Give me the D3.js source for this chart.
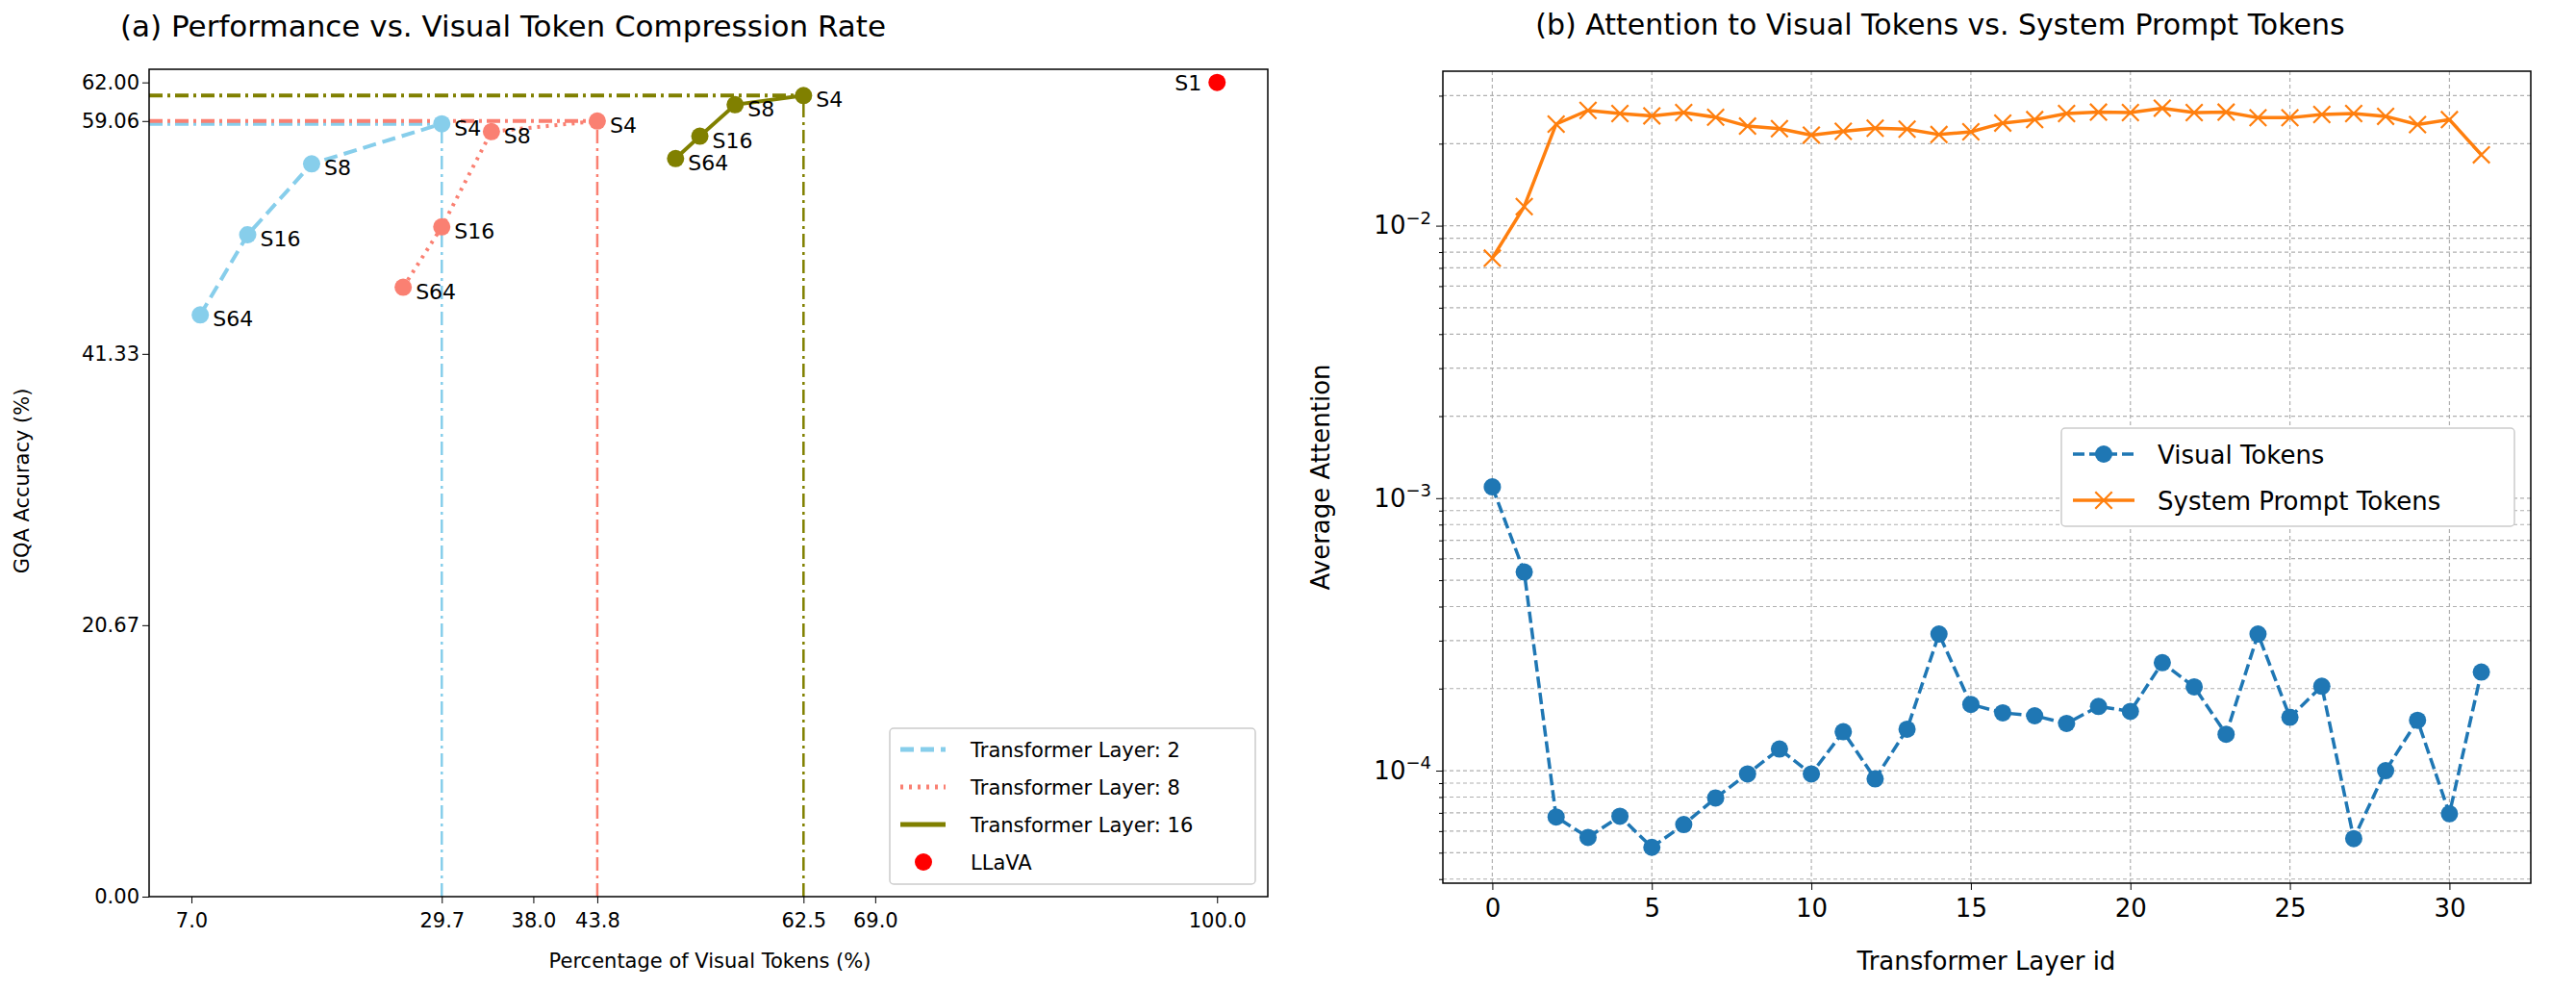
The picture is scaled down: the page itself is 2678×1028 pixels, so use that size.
<!DOCTYPE html>
<html><head><meta charset="utf-8">
<script src="https://cdn.jsdelivr.net/npm/d3@7"></script>
<style>body{margin:0;background:#fff}text{font-family:"DejaVu Sans",sans-serif}</style>
</head><body>
<svg id="fig" width="2678" height="1028"></svg>
<script>
// ---- panel (a) data
var layer2 = [{x: 7.8, y: 44.3, l: "S64"}, {x: 12.1, y: 50.4, l: "S16"}, {x: 17.9, y: 55.8, l: "S8"}, {x: 29.7, y: 58.85, l: "S4"}];
var layer8 = [{x: 26.2, y: 46.4, l: "S64"}, {x: 29.7, y: 51.0, l: "S16"}, {x: 34.2, y: 58.25, l: "S8"}, {x: 43.8, y: 59.06, l: "S4"}];
var layer16 = [{x: 50.9, y: 56.2, l: "S64"}, {x: 53.1, y: 57.9, l: "S16"}, {x: 56.3, y: 60.3, l: "S8"}, {x: 62.5, y: 61.0, l: "S4"}];
var llava = [{x: 100, y: 62.0, l: "S1"}];
var xTicksA = [7.0, 29.7, 38.0, 43.8, 62.5, 69.0, 100.0];
var yTicksA = [0.00, 20.67, 41.33, 59.06, 62.00];

// ---- panel (b) data
var layerIds = d3.range(32);
var visualTok = [1.1e-3, 5.36e-4, 6.76e-5, 5.69e-5, 6.8e-5, 5.23e-5, 6.34e-5, 7.94e-5, 9.73e-5, 1.2e-4,
    9.73e-5, 1.39e-4, 9.33e-5, 1.42e-4, 3.17e-4, 1.75e-4, 1.63e-4, 1.59e-4, 1.49e-4, 1.72e-4,
    1.65e-4, 2.49e-4, 2.03e-4, 1.36e-4, 3.17e-4, 1.57e-4, 2.04e-4, 5.63e-5, 1.0e-4, 1.53e-4,
    6.95e-5, 2.3e-4];
var systemTok = [0.0076, 0.01175, 0.0236, 0.0265, 0.0258, 0.0253, 0.026, 0.025, 0.0232, 0.0227,
    0.0215, 0.0222, 0.0228, 0.0226, 0.0216, 0.0221, 0.0238, 0.0245, 0.0258, 0.0261,
    0.026, 0.027, 0.026, 0.0261, 0.0249, 0.0249, 0.0256, 0.0258, 0.0252, 0.0235,
    0.0245, 0.0182];

var svg = d3.select("#fig");

// ================= panel (a)
var xa = d3.scaleLinear().domain([3.16, 104.6]).range([155, 1318]);
var ya = d3.scaleLinear().domain([0, 63]).range([932, 72]);
var ga = svg.append("g");

ga.append("text").attr("x", 523).attr("y", 38).attr("text-anchor", "middle")
    .style("font-size", "31px").text("(a) Performance vs. Visual Token Compression Rate");

var seriesA = [
    {data: layer2, color: "#87ceeb", dash: "14,7", name: "Transformer Layer: 2"},
    {data: layer8, color: "#fa8072", dash: "3,6", name: "Transformer Layer: 8"},
    {data: layer16, color: "#808000", dash: null, name: "Transformer Layer: 16"}
];

// reference dash-dot lines at the S4 point
seriesA.forEach(function (s) {
    var p = s.data[s.data.length - 1];
    ga.append("line").attr("x1", xa(p.x)).attr("x2", xa(p.x)).attr("y1", ya(0)).attr("y2", ya(p.y))
        .attr("stroke", s.color).attr("stroke-width", 2.5).attr("stroke-dasharray", "14,5,3,5");
    ga.append("line").attr("x1", xa.range()[0]).attr("x2", xa(p.x)).attr("y1", ya(p.y)).attr("y2", ya(p.y))
        .attr("stroke", s.color).attr("stroke-width", 4).attr("stroke-dasharray", "14,5,3,5");
});

var lineA = d3.line().x(function (d) { return xa(d.x); }).y(function (d) { return ya(d.y); });
seriesA.forEach(function (s) {
    ga.append("path").attr("d", lineA(s.data)).attr("fill", "none").attr("stroke", s.color)
        .attr("stroke-width", 4).attr("stroke-dasharray", s.dash);
    ga.selectAll(null).data(s.data).enter().append("circle")
        .attr("cx", function (d) { return xa(d.x); }).attr("cy", function (d) { return ya(d.y); })
        .attr("r", 9).attr("fill", s.color);
    ga.selectAll(null).data(s.data).enter().append("text")
        .attr("x", function (d) { return xa(d.x) + 13; }).attr("y", function (d) { return ya(d.y) + 12; })
        .style("font-size", "22px").text(function (d) { return d.l; });
});
ga.selectAll(null).data(llava).enter().append("circle")
    .attr("cx", function (d) { return xa(d.x); }).attr("cy", function (d) { return ya(d.y); })
    .attr("r", 9).attr("fill", "red");
ga.selectAll(null).data(llava).enter().append("text")
    .attr("x", function (d) { return xa(d.x) - 16; }).attr("y", function (d) { return ya(d.y) + 8; })
    .attr("text-anchor", "end").style("font-size", "22px").text(function (d) { return d.l; });

ga.append("g").attr("transform", "translate(0,932)")
    .call(d3.axisBottom(xa).tickValues(xTicksA).tickFormat(d3.format(".1f")).tickSizeOuter(0).tickSize(7).tickPadding(10))
    .style("font-size", "21px");
ga.append("g").attr("transform", "translate(155,0)")
    .call(d3.axisLeft(ya).tickValues(yTicksA).tickFormat(d3.format(".2f")).tickSizeOuter(0).tickSize(7))
    .style("font-size", "21px");
ga.selectAll(".domain").remove();
ga.selectAll(".tick text").attr("fill", "#000");
ga.append("rect").attr("x", 155).attr("y", 72).attr("width", 1163).attr("height", 860)
    .attr("fill", "none").attr("stroke", "#000").attr("stroke-width", 1.5);
ga.append("text").attr("x", 738).attr("y", 1006).attr("text-anchor", "middle")
    .style("font-size", "21px").text("Percentage of Visual Tokens (%)");
ga.append("text").attr("transform", "translate(30,500) rotate(-90)").attr("text-anchor", "middle")
    .style("font-size", "21px").text("GQA Accuracy (%)");

// legend (a)
var la = ga.append("g").attr("transform", "translate(925,757)");
la.append("rect").attr("width", 380).attr("height", 162).attr("rx", 4)
    .attr("fill", "#fff").attr("stroke", "#ccc").attr("stroke-width", 1.5);
seriesA.forEach(function (s, i) {
    la.append("line").attr("x1", 11).attr("x2", 58).attr("y1", 22 + i * 39).attr("y2", 22 + i * 39)
        .attr("stroke", s.color).attr("stroke-width", 5).attr("stroke-dasharray", s.dash);
    la.append("text").attr("x", 84).attr("y", 30 + i * 39).style("font-size", "21px").text(s.name);
});
la.append("circle").attr("cx", 35).attr("cy", 139).attr("r", 9).attr("fill", "red");
la.append("text").attr("x", 84).attr("y", 147).style("font-size", "21px").text("LLaVA");

// ================= panel (b)
var xb = d3.scaleLinear().domain([-1.55, 32.55]).range([1500, 2631]);
var yb = d3.scaleLog().domain([Math.pow(10, -4.413), Math.pow(10, -1.433)]).range([918, 74]);
var gb = svg.append("g");

gb.append("text").attr("x", 2017).attr("y", 36).attr("text-anchor", "middle")
    .style("font-size", "30px").text("(b) Attention to Visual Tokens vs. System Prompt Tokens");

// grid
var minor = [];
[-5, -4, -3, -2].forEach(function (e) {
    for (var k = 1; k < 10; k++) {
        var v = k * Math.pow(10, e);
        if (v >= yb.domain()[0] && v <= yb.domain()[1]) minor.push(v);
    }
});
gb.selectAll(null).data(minor).enter().append("line")
    .attr("x1", 1500).attr("x2", 2631).attr("y1", function (d) { return yb(d); }).attr("y2", function (d) { return yb(d); })
    .attr("stroke", "#b0b0b0").attr("stroke-width", 1.2).attr("stroke-dasharray", "4,3");
gb.selectAll(null).data(d3.range(0, 31, 5)).enter().append("line")
    .attr("y1", 74).attr("y2", 918).attr("x1", function (d) { return xb(d); }).attr("x2", function (d) { return xb(d); })
    .attr("stroke", "#b0b0b0").attr("stroke-width", 1.2).attr("stroke-dasharray", "4,3");

var lineV = d3.line().x(function (d, i) { return xb(layerIds[i]); }).y(function (d) { return yb(d); });
gb.append("path").attr("d", lineV(visualTok)).attr("fill", "none").attr("stroke", "#1f77b4")
    .attr("stroke-width", 3.5).attr("stroke-dasharray", "12,5");
gb.selectAll(null).data(visualTok).enter().append("circle")
    .attr("cx", function (d, i) { return xb(layerIds[i]); }).attr("cy", function (d) { return yb(d); })
    .attr("r", 9).attr("fill", "#1f77b4");
gb.append("path").attr("d", lineV(systemTok)).attr("fill", "none").attr("stroke", "#ff7f0e").attr("stroke-width", 3.5);
var xm = d3.symbol().type(d3.symbolX).size(200);
gb.selectAll(null).data(systemTok).enter().append("path").attr("d", xm)
    .attr("transform", function (d, i) { return "translate(" + xb(layerIds[i]) + "," + yb(d) + ")"; })
    .attr("fill", "none").attr("stroke", "#ff7f0e").attr("stroke-width", 2.2);

gb.append("g").attr("transform", "translate(0,918)")
    .call(d3.axisBottom(xb).tickValues(d3.range(0, 31, 5)).tickSizeOuter(0).tickSize(7).tickPadding(10))
    .style("font-size", "26px");
var yAx = gb.append("g").attr("transform", "translate(1500,0)")
    .call(d3.axisLeft(yb).tickValues(minor).tickSizeOuter(0)
        .tickSize(4).tickFormat(function () { return ""; }));
yAx.selectAll(".tick").filter(function (d) { return [1e-4, 1e-3, 1e-2].indexOf(d) >= 0; })
    .each(function (d) {
        var t = d3.select(this);
        t.select("line").attr("x2", -7);
        var tx = t.append("text").attr("x", -12).attr("dy", "0.32em").attr("text-anchor", "end")
            .attr("fill", "#000").style("font-size", "26px").text("10");
        tx.append("tspan").attr("dy", "-0.6em").style("font-size", "18px").text("\u2212" + Math.round(-Math.log10(d)));
    });
gb.selectAll(".domain").remove();
gb.selectAll(".tick text").attr("fill", "#000");
gb.append("rect").attr("x", 1500).attr("y", 74).attr("width", 1131).attr("height", 844)
    .attr("fill", "none").attr("stroke", "#000").attr("stroke-width", 1.5);
gb.append("text").attr("x", 2065).attr("y", 1008).attr("text-anchor", "middle")
    .style("font-size", "26px").text("Transformer Layer id");
gb.append("text").attr("transform", "translate(1382,496) rotate(-90)").attr("text-anchor", "middle")
    .style("font-size", "26px").text("Average Attention");

// legend (b)
var lb = gb.append("g").attr("transform", "translate(2143,445)");
lb.append("rect").attr("width", 471).attr("height", 102).attr("rx", 4)
    .attr("fill", "#fff").attr("stroke", "#ccc").attr("stroke-width", 1.5);
lb.append("line").attr("x1", 12).attr("x2", 76).attr("y1", 27).attr("y2", 27)
    .attr("stroke", "#1f77b4").attr("stroke-width", 3.5).attr("stroke-dasharray", "12,5");
lb.append("circle").attr("cx", 44).attr("cy", 27).attr("r", 9).attr("fill", "#1f77b4");
lb.append("text").attr("x", 100).attr("y", 37).style("font-size", "26px").text("Visual Tokens");
lb.append("line").attr("x1", 12).attr("x2", 76).attr("y1", 75).attr("y2", 75)
    .attr("stroke", "#ff7f0e").attr("stroke-width", 3.5);
lb.append("path").attr("d", xm).attr("transform", "translate(44,75)")
    .attr("fill", "none").attr("stroke", "#ff7f0e").attr("stroke-width", 2.2);
lb.append("text").attr("x", 100).attr("y", 85).style("font-size", "26px").text("System Prompt Tokens");
</script>
</body></html>
